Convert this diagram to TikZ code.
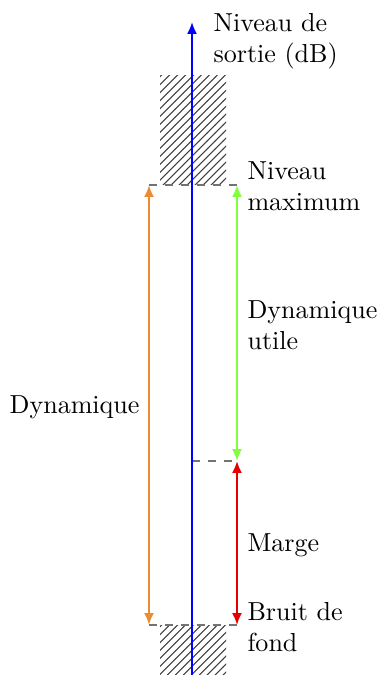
\documentclass[tikz,border=0pt]{standalone}
\usetikzlibrary{patterns,arrows.meta}
\definecolor{myorange}{RGB}{235,140,50}
\definecolor{mygreen}{RGB}{130,255,60}
\definecolor{myred}{RGB}{230,0,0}
\definecolor{myblue}{RGB}{0,0,255}
\tikzset{
  hatch/.style={pattern=north east lines, pattern color=black!75, draw=none},
  dashline/.style={dashed, draw=black!55, line width=0.5pt},
  tip/.tip={Latex[length=4.5pt,width=3.8pt]},
  arr/.style={line width=0.75pt, tip-tip},
  lbl/.style={align=left, anchor=west, inner sep=0pt, font=\normalsize, scale=0.98},
}
\begin{document}
\begin{tikzpicture}[x=0.013228cm, y=-0.013228cm]
\useasboundingbox (0,0) rectangle (378,675);
% hatched areas
\fill[hatch] (160,76) rectangle (226,185);
\fill[hatch] (160,625) rectangle (226,675);
% key coordinates
\coordinate (axB) at (192,675);
\coordinate (axT) at (192,22);
\coordinate (oT) at (149,185);
\coordinate (oB) at (149,625);
\coordinate (gT) at (237,185);
\coordinate (gB) at (237,461);
\coordinate (mA) at (192,461);
\coordinate (rB) at (237,625);
% dashed lines
\draw[dashline] (oT) -- (gT);
\draw[dashline] (mA) -- (gB);
\draw[dashline] (oB) -- (rB);
% axis
\draw[line width=0.75pt, myblue, -tip] (axB) -- (axT);
% arrows
\draw[arr, myorange] (oT) -- (oB);
\draw[arr, mygreen] (gT) -- (gB);
\draw[arr, myred] (gB) -- (rB);
% labels
\node[lbl] (ls) at (213,41) {Niveau de\\sortie (dB)};
\node[lbl] (lm) at (247,186) {Niveau\\maximum};
\node[lbl] (lu) at (247,325) {Dynamique\\utile};
\node[lbl, anchor=east] (ld) at (140,407) {Dynamique};
\node[lbl] (lg) at (247,545) {Marge};
\node[lbl] (lb) at (247,627) {Bruit de\\fond};
\end{tikzpicture}
\end{document}
